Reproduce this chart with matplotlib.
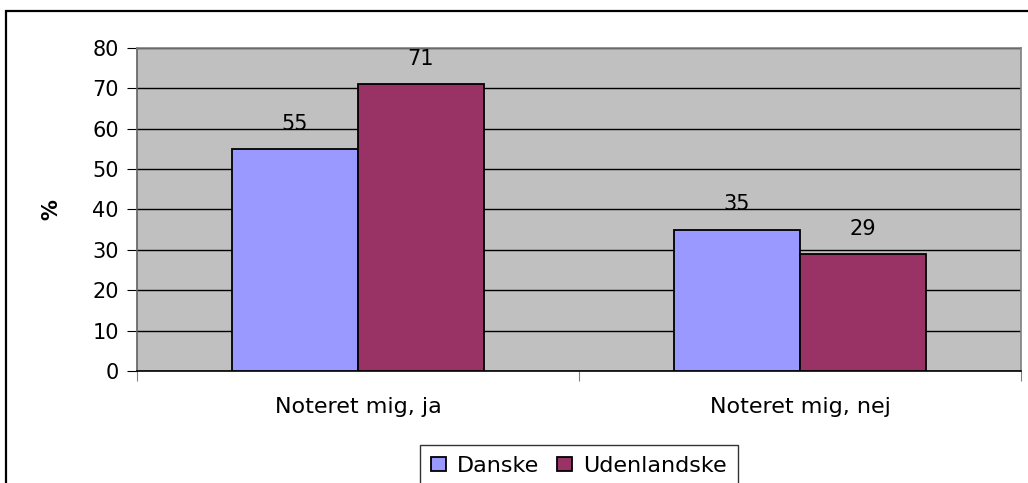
import numpy as np
import matplotlib
matplotlib.use("Agg")
import matplotlib.pyplot as plt
from matplotlib.patches import Rectangle

plt.rcParams['font.family'] = ['DejaVu Sans']

categories = ['Noteret mig, ja', 'Noteret mig, nej']
series_names = ['Danske', 'Udenlandske']
danske = [55, 35]
udenlandske = [71, 29]
colors = ['#9999FF', '#993366']

fig = plt.figure(figsize=(10.28, 4.83), dpi=100)
ax = fig.add_axes([137 / 1028, 1 - 371 / 483, 884 / 1028, 323 / 483])
ax.set_facecolor('#C0C0C0')

# outer chart frame (cut off at right and bottom like the original)
fig.patches.append(Rectangle((6 / 1028, -0.2), 1.2, 1.2 - 11 / 483,
                             transform=fig.transFigure, fill=False,
                             edgecolor='black', linewidth=1.6, clip_on=False))

x = np.arange(len(categories))
w = 0.285
for i, (vals, name) in enumerate(zip([danske, udenlandske], series_names)):
    b = ax.bar(x + (i - 0.5) * w, vals, width=w, color=colors[i],
               edgecolor='black', linewidth=1.3, label=name, zorder=3)
    for rect, v in zip(b, vals):
        ax.annotate(str(v), (rect.get_x() + rect.get_width() / 2, v),
                    xytext=(0, 11), textcoords='offset points',
                    ha='center', va='bottom', fontsize=15)

ax.set_xlim(-0.5, 1.5)
ax.set_ylim(0, 80)
ax.set_yticks(range(0, 81, 10))
ax.yaxis.grid(True, color='black', linewidth=1.0, zorder=0)
ax.set_axisbelow(True)

ax.set_xticks([-0.5, 0.5, 1.5])
ax.set_xticklabels([])
ax.set_xticks(x, minor=True)
ax.set_xticklabels(categories, minor=True, fontsize=16)
ax.tick_params(axis='x', which='minor', length=0, pad=19)
ax.tick_params(axis='x', which='major', length=7, color='#808080')
ax.tick_params(axis='y', length=7, labelsize=15, pad=6, color='black')

ax.spines['top'].set_color('#808080')
ax.spines['right'].set_color('#808080')
ax.spines['left'].set_color('#606060')
ax.spines['bottom'].set_color('black')
for s in ax.spines.values():
    s.set_linewidth(1.2)

ax.set_ylabel('%', fontsize=15, fontweight='bold', labelpad=22)

leg = ax.legend(loc='upper center', bbox_to_anchor=(0.5, -0.228), ncol=2,
                fontsize=16, frameon=True, fancybox=False, edgecolor='black',
                handlelength=0.68, handleheight=0.55, handletextpad=0.5,
                columnspacing=0.8, borderpad=0.5, borderaxespad=0)
leg.get_frame().set_linewidth(1.0)

fig.savefig('out.png', dpi=100)
